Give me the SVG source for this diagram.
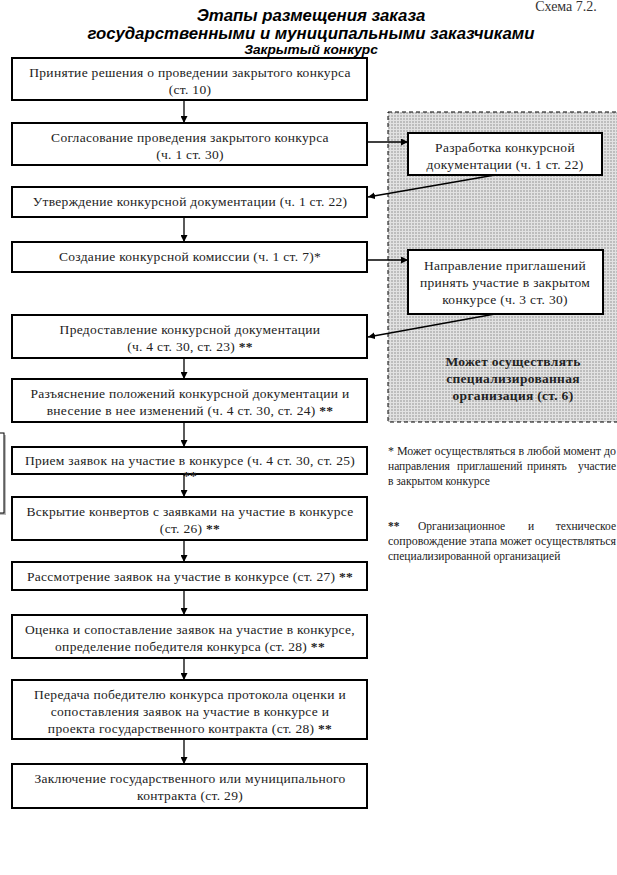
<svg xmlns="http://www.w3.org/2000/svg" width="617" height="875" viewBox="0 0 617 875">
<defs>
<style>
.box{fill:#fff;stroke:#000;stroke-width:2}
.t{font-family:"Liberation Serif","Times New Roman",serif;font-size:13.5px;letter-spacing:0.3px;fill:#222;text-anchor:middle}
.b{font-weight:bold}
.title{font-family:"Liberation Sans",Arial,sans-serif;font-weight:bold;font-style:italic;fill:#000;text-anchor:middle}
.note{font-family:"Liberation Serif","Times New Roman",serif;font-size:11.5px;fill:#222}
.conn{stroke:#000;stroke-width:1.3;fill:none}
</style>
<pattern id="grid" width="3" height="3" patternUnits="userSpaceOnUse">
<rect width="3" height="3" fill="#bdbdbd"/>
<rect width="3" height="1" fill="#e2e2e2"/>
<rect width="1" height="3" fill="#e2e2e2"/>
</pattern>
<marker id="arr" viewBox="0 0 10 10" refX="10" refY="5" markerWidth="7" markerHeight="7" markerUnits="userSpaceOnUse" orient="auto">
<path d="M0,0 L10,5 L0,10 z" fill="#000"/>
</marker>
</defs>
<rect width="617" height="875" fill="#fff"/>

<g id="header">
<text x="566" y="11" font-family="Liberation Serif,serif" font-size="14" fill="#333" text-anchor="middle">Схема 7.2.</text>
<text class="title" x="311" y="21" font-size="16.8">Этапы размещения заказа</text>
<text class="title" x="311" y="39" font-size="16.8">государственными и муниципальными заказчиками</text>
<text class="title" x="311" y="54" font-size="13.7">Закрытый конкурс</text>
</g>

<g id="artifact">
<rect x="-4" y="435" width="10" height="80" fill="#bbb"/>
<rect x="-6" y="433" width="10" height="80" fill="#fff" stroke="#000" stroke-width="1"/>
</g>

<g id="specialized-area">
<rect x="388" y="112" width="240" height="310" fill="url(#grid)" stroke="#000" stroke-width="1" stroke-dasharray="4,3"/>
<text class="t b" x="513" y="366">Может осуществлять</text>
<text class="t b" x="513" y="383">специализированная</text>
<text class="t b" x="513" y="400">организация (ст. 6)</text>
</g>

<g id="n1"><rect class="box" x="12" y="58" width="355" height="42"/>
<text class="t" x="190" y="77">Принятие решения о проведении закрытого конкурса</text>
<text class="t" x="190" y="94">(ст. 10)</text></g>

<g id="n2"><rect class="box" x="12" y="123" width="355" height="42"/>
<text class="t" x="190" y="142">Согласование проведения закрытого конкурса</text>
<text class="t" x="190" y="159">(ч. 1 ст. 30)</text></g>

<g id="n3"><rect class="box" x="12" y="187" width="355" height="30"/>
<text class="t" x="190" y="206">Утверждение конкурсной документации (ч. 1 ст. 22)</text></g>

<g id="n4"><rect class="box" x="12" y="242" width="355" height="30"/>
<text class="t" x="190" y="261">Создание конкурсной комиссии (ч. 1 ст. 7)*</text></g>

<g id="n5"><rect class="box" x="12" y="315" width="355" height="43"/>
<text class="t" x="190" y="334">Предоставление конкурсной документации</text>
<text class="t" x="190" y="351">(ч. 4 ст. 30, ст. 23) <tspan class="b">**</tspan></text></g>

<g id="n6"><rect class="box" x="12" y="379" width="355" height="43"/>
<text class="t" x="190" y="398">Разъяснение положений конкурсной документации и</text>
<text class="t" x="190" y="415">внесение в нее изменений (ч. 4 ст. 30, ст. 24) <tspan class="b">**</tspan></text></g>

<g id="n7"><rect class="box" x="12" y="447" width="355" height="27"/>
<text class="t" x="190" y="465">Прием заявок на участие в конкурсе (ч. 4 ст. 30, ст. 25)</text>
<text class="t b" x="190" y="480">**</text></g>

<g id="n8"><rect class="box" x="12" y="497" width="355" height="43"/>
<text class="t" x="190" y="516">Вскрытие конвертов с заявками на участие в конкурсе</text>
<text class="t" x="190" y="533">(ст. 26) <tspan class="b">**</tspan></text></g>

<g id="n9"><rect class="box" x="12" y="562" width="355" height="28"/>
<text class="t" x="190" y="581">Рассмотрение заявок на участие в конкурсе (ст. 27) <tspan class="b">**</tspan></text></g>

<g id="n10"><rect class="box" x="12" y="615" width="355" height="43"/>
<text class="t" x="190" y="634">Оценка и сопоставление заявок на участие в конкурсе,</text>
<text class="t" x="190" y="651">определение победителя конкурса (ст. 28) <tspan class="b">**</tspan></text></g>

<g id="n11"><rect class="box" x="12" y="680" width="355" height="59"/>
<text class="t" x="190" y="699">Передача победителю конкурса протокола оценки и</text>
<text class="t" x="190" y="716">сопоставления заявок на участие в конкурсе и</text>
<text class="t" x="190" y="733">проекта государственного контракта (ст. 28) <tspan class="b">**</tspan></text></g>

<g id="n12"><rect class="box" x="12" y="764" width="355" height="44"/>
<text class="t" x="190" y="783">Заключение государственного или муниципального</text>
<text class="t" x="190" y="800">контракта (ст. 29)</text></g>

<g id="nA"><rect class="box" x="408" y="133" width="194" height="42"/>
<text class="t" x="505" y="152">Разработка конкурсной</text>
<text class="t" x="505" y="169">документации (ч. 1 ст. 22)</text></g>

<g id="nB"><rect class="box" x="408" y="250" width="195" height="64"/>
<text class="t" x="505" y="270">Направление приглашений</text>
<text class="t" x="505" y="287">принять участие в закрытом</text>
<text class="t" x="505" y="304">конкурсе (ч. 3 ст. 30)</text></g>

<g id="connectors">
<line class="conn" x1="184" y1="100" x2="184" y2="123" marker-end="url(#arr)"/>
<line class="conn" x1="367" y1="142" x2="408" y2="142" marker-end="url(#arr)"/>
<line class="conn" x1="495" y1="175" x2="368" y2="197" marker-end="url(#arr)"/>
<line class="conn" x1="184" y1="217" x2="184" y2="242" marker-end="url(#arr)"/>
<line class="conn" x1="367" y1="260" x2="408" y2="260" marker-end="url(#arr)"/>
<line class="conn" x1="495" y1="314" x2="368" y2="337" marker-end="url(#arr)"/>
<line class="conn" x1="184" y1="358" x2="184" y2="379" marker-end="url(#arr)"/>
<line class="conn" x1="184" y1="422" x2="184" y2="447" marker-end="url(#arr)"/>
<line class="conn" x1="184" y1="474" x2="184" y2="497" marker-end="url(#arr)"/>
<line class="conn" x1="184" y1="540" x2="184" y2="562" marker-end="url(#arr)"/>
<line class="conn" x1="184" y1="590" x2="184" y2="615" marker-end="url(#arr)"/>
<line class="conn" x1="184" y1="658" x2="184" y2="680" marker-end="url(#arr)"/>
<line class="conn" x1="184" y1="739" x2="184" y2="764" marker-end="url(#arr)"/>
</g>

<g id="notes">
<text class="note" x="388" y="455" textLength="228" lengthAdjust="spacingAndGlyphs">* Может осуществляться в любой момент до</text>
<text class="note" x="388" y="470">направления</text>
<text class="note" x="457" y="470">приглашений</text>
<text class="note" x="527" y="470">принять</text>
<text class="note" x="616" y="470" text-anchor="end">участие</text>
<text class="note" x="388" y="485">в закрытом конкурсе</text>
<text class="note" x="388" y="530"><tspan class="b">**</tspan></text>
<text class="note" x="418" y="530">Организационное</text>
<text class="note" x="528" y="530">и</text>
<text class="note" x="616" y="530" text-anchor="end">техническое</text>
<text class="note" x="388" y="545" textLength="228" lengthAdjust="spacingAndGlyphs">сопровождение этапа может осуществляться</text>
<text class="note" x="388" y="560">специализированной организацией</text>
</g>
</svg>
